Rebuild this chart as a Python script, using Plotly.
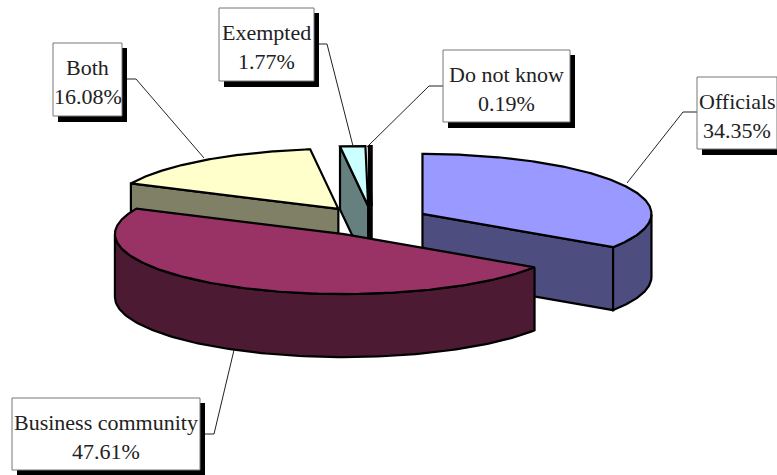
import numpy as np
import plotly.graph_objects as go

categories = ["Officials", "Business community", "Both", "Exempted", "Do not know"]
shares = [34.35, 47.61, 16.08, 1.77, 0.19]
top_colors = ["#9999FF", "#993366", "#FFFFCC", "#CCFFFF", "#660066"]
side_colors = ["#4D4D80", "#4D1A33", "#808066", "#668080", "#330033"]
draw_order = [4, 3, 2, 0, 1]

# drawing frame (pixels of the 777x475 page)
W, H = 777, 475
CX, CY, RX, RY, DEPTH, EXPLODE = 372, 221, 229, 60, 63, 0.25

# label boxes: left, top, right, bottom
boxes = [(697, 77, 777, 149), (12, 398, 200, 470), (53, 43, 122, 116),
         (219, 8, 314, 81), (443, 50, 570, 122)]
leaders = [[(697, 112), (683, 112), (627, 183)],
           [(205, 434), (214, 434), (234, 350)],
           [(127, 79), (136, 79), (204, 158)],
           [(319, 44), (327, 44), (353, 146)],
           [(443, 86), (429, 86), (367, 147)]]

total = sum(shares)
edges = np.concatenate([[0], np.cumsum(shares)]) / total * 2 * np.pi


def rim(ax, ay, t):
    return ax + RX * np.sin(t), ay - RY * np.cos(t)


def poly(xs, ys, fill):
    return go.Scatter(x=list(xs) + [xs[0]], y=list(ys) + [ys[0]], mode="lines",
                      fill="toself", fillcolor=fill, hoverinfo="skip",
                      line=dict(color="black", width=2.2), showlegend=False)


traces = []
for i in draw_order:
    a0, a1 = edges[i], edges[i + 1]
    mid = (a0 + a1) / 2
    ax, ay = CX + EXPLODE * RX * np.sin(mid), CY - EXPLODE * RY * np.cos(mid)
    # cut faces that turn toward the viewer
    for a, vis in ((a0, np.sin(a0) < -1e-6), (a1, np.sin(a1) > 1e-6)):
        if vis:
            ex, ey = rim(ax, ay, a)
            traces.append(poly([ax, ex, ex, ax], [ay, ey, ey + DEPTH, ay + DEPTH], side_colors[i]))
    # outer wall, front half only
    lo, hi = max(a0, np.pi / 2), min(a1, 3 * np.pi / 2)
    if hi > lo:
        t = np.linspace(lo, hi, 120)
        x, y = rim(ax, ay, t)
        traces.append(poly(np.r_[x, x[::-1]], np.r_[y, y[::-1] + DEPTH], side_colors[i]))
    # top face
    t = np.linspace(a0, a1, 200)
    x, y = rim(ax, ay, t)
    traces.append(poly(np.r_[ax, x], np.r_[ay, y], top_colors[i]))

for pts in leaders:
    traces.append(go.Scatter(x=[p[0] for p in pts], y=[p[1] for p in pts], mode="lines",
                             line=dict(color="#222222", width=1), hoverinfo="skip", showlegend=False))

shapes, annotations = [], []
for (l, t, r, b), name, v in zip(boxes, categories, shares):
    shapes.append(dict(type="rect", x0=l + 5, y0=t + 5, x1=r + 5, y1=b + 6, layer="above",
                       fillcolor="black", line=dict(width=0)))
    shapes.append(dict(type="rect", x0=l, y0=t, x1=r, y1=b, layer="above",
                       fillcolor="white", line=dict(color="#777777", width=1)))
    annotations.append(dict(x=(l + r) / 2, y=(t + b) / 2 - 12, text=name, showarrow=False,
                            font=dict(family="Liberation Serif", size=22, color="#222222")))
    annotations.append(dict(x=(l + r) / 2, y=(t + b) / 2 + 17, text=f"{v:.2f}%", showarrow=False,
                            font=dict(family="Liberation Serif", size=22, color="#222222")))

fig = go.Figure(traces)
fig.update_layout(width=W, height=H, margin=dict(l=0, r=0, t=0, b=0),
                  paper_bgcolor="white", plot_bgcolor="white", shapes=shapes,
                  annotations=annotations, showlegend=False,
                  xaxis=dict(range=[0, W], visible=False, fixedrange=True),
                  yaxis=dict(range=[H, 0], visible=False, fixedrange=True))
fig.write_html("out.html", config=dict(displayModeBar=False),
               post_script="document.body.style.margin='0';document.body.style.overflow='hidden';")
